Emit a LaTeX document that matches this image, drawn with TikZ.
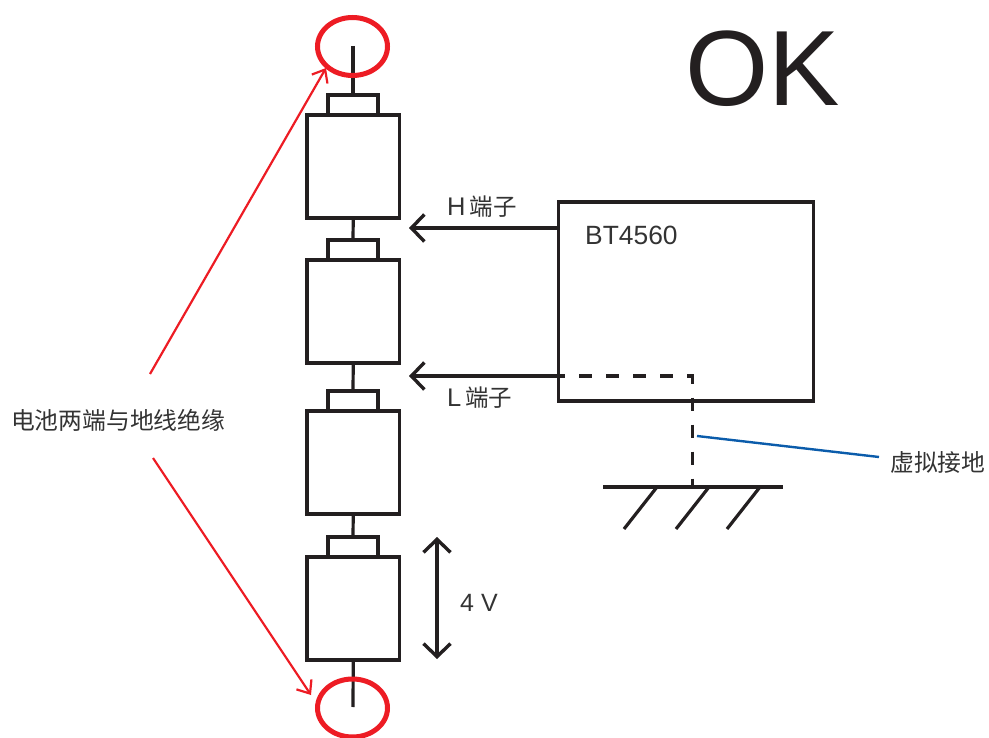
\documentclass[tikz,border=0pt]{standalone}
\usepackage{fontspec}
\setmainfont{Liberation Sans}
\newfontfamily\cjk{Noto Sans CJK SC}
\usetikzlibrary{arrows.meta,shapes.geometric}
\definecolor{ink}{HTML}{231F20}
\definecolor{redl}{HTML}{ED1C24}
\definecolor{bluel}{HTML}{0B5CAB}
\definecolor{gtxt}{HTML}{333333}
\tikzset{
  x=1pt,y=-1pt,
  cell/.style={draw=ink,line width=3.6pt,minimum width=92.5pt,minimum height=103pt,inner sep=0pt,outer sep=0pt,anchor=north west},
  capbox/.style={draw=ink,line width=3.4pt,minimum width=50pt,minimum height=20pt,inner sep=0pt,outer sep=0pt,anchor=north west},
  wire/.style={draw=ink,line width=3.2pt},
  bigarrow/.style={draw=ink,line width=3.4pt,-{Straight Barb[length=13pt,width=27pt,line width=3.4pt]}},
  redarrow/.style={draw=redl,line width=2.2pt,-{Straight Barb[length=11pt,width=18pt,line width=2.2pt]}},
  redring/.style={draw=redl,line width=5pt,ellipse,minimum width=70pt,minimum height=58pt,inner sep=0pt,outer sep=0pt},
  lab/.style={inner sep=0pt,text=gtxt,font=\fontsize{25}{25}\selectfont},
  cjklab/.style={inner sep=0pt,text=gtxt,font=\cjk\fontsize{23.8}{24}\selectfont},
}
\begin{document}
\begin{tikzpicture}
\useasboundingbox (0,0) rectangle (989,738);
% cells
\node[capbox] (c1) at (328,95) {};
\node[cell] (b1) at (307,115) {};
\node[capbox] (c2) at (328,240) {};
\node[cell] (b2) at (307,260) {};
\node[capbox] (c3) at (328,391) {};
\node[cell] (b3) at (307,411) {};
\node[capbox] (c4) at (328,537) {};
\node[cell] (b4) at (307,557) {};
\coordinate (tt) at (353,46);
\coordinate (bt) at (353,707);
\draw[wire] (tt) -- (c1.north);
\draw[wire] (b1.south) -- (c2.north);
\draw[wire] (b2.south) -- (c3.north);
\draw[wire] (b3.south) -- (c4.north);
\draw[wire] (b4.south) -- (bt);
% rings
\node[redring] (r1) at (352.5,46.5) {};
\node[redring] (r2) at (352.5,708) {};
% tester
\node[draw=ink,line width=3.6pt,minimum width=255pt,minimum height=199pt,inner sep=0pt,outer sep=0pt,anchor=north west] (bt4560) at (558.5,202) {};
\node[inner sep=0pt,text=gtxt,font=\fontsize{26.4}{26}\selectfont,anchor=west] (btl) at (585,235.5) {BT4560};
\coordinate (hs) at (558,228);
\coordinate (ht) at (409,228);
\coordinate (ls) at (558,376);
\coordinate (lt) at (409,376);
\draw[bigarrow] (hs) -- (ht);
\draw[bigarrow] (ls) -- (lt);
\node[anchor=west,inner sep=0pt] (hl) at (447,207) {\fontsize{25.5}{25}\selectfont\color{gtxt}H\hspace{4pt}{\cjk\fontsize{23.5}{24}\selectfont 端子}};
\node[anchor=west,inner sep=0pt] (ll) at (447,398) {\fontsize{25.5}{25}\selectfont\color{gtxt}L\hspace{4pt}{\cjk\fontsize{23.5}{24}\selectfont 端子}};
% virtual ground
\coordinate (corner) at (692.5,376);
\coordinate (gc) at (692.5,487);
\draw[draw=ink,line width=3.4pt,dash pattern=on 13pt off 14pt,dash phase=6pt] (ls) -- (corner) -- (gc);
\coordinate (g1) at (603,487);
\coordinate (g2) at (783,487);
\draw[wire] (g1) -- (g2);
\coordinate (a1) at (657,487); \coordinate (a2) at (624,529);
\coordinate (d1) at (709,487); \coordinate (d2) at (676,529);
\coordinate (e1) at (760,487); \coordinate (e2) at (727,529);
\draw[wire] (a1) -- (a2);
\draw[wire] (d1) -- (d2);
\draw[wire] (e1) -- (e2);
\coordinate (bl) at (697,436);
\node[cjklab,anchor=west] (vg) at (890,462) {虚拟接地};
\coordinate (br) at (879,457);
\draw[draw=bluel,line width=2.4pt] (bl) -- (br);
% 4V
\coordinate (v1) at (437,659);
\coordinate (v2) at (437,537);
\draw[draw=ink,line width=3.4pt,{Straight Barb[length=13pt,width=27pt,line width=3.4pt]}-{Straight Barb[length=13pt,width=27pt,line width=3.4pt]}] (v1) -- (v2);
\node[lab,anchor=west] (v4) at (460,603) {4 V};
% insulation
\node[cjklab,anchor=west] (ins) at (11,420) {电池两端与地线绝缘};
\coordinate (i1) at (150,374);
\coordinate (i2) at (153,458);
\coordinate (t1) at (326,68);
\coordinate (t2) at (311,695);
\draw[redarrow] (i1) -- (t1);
\draw[redarrow] (i2) -- (t2);
% OK
\node[inner sep=0pt,anchor=center,text=ink,font=\fontsize{107}{107}\selectfont] (ok) at (762.5,69) {OK};
\end{tikzpicture}
\end{document}
